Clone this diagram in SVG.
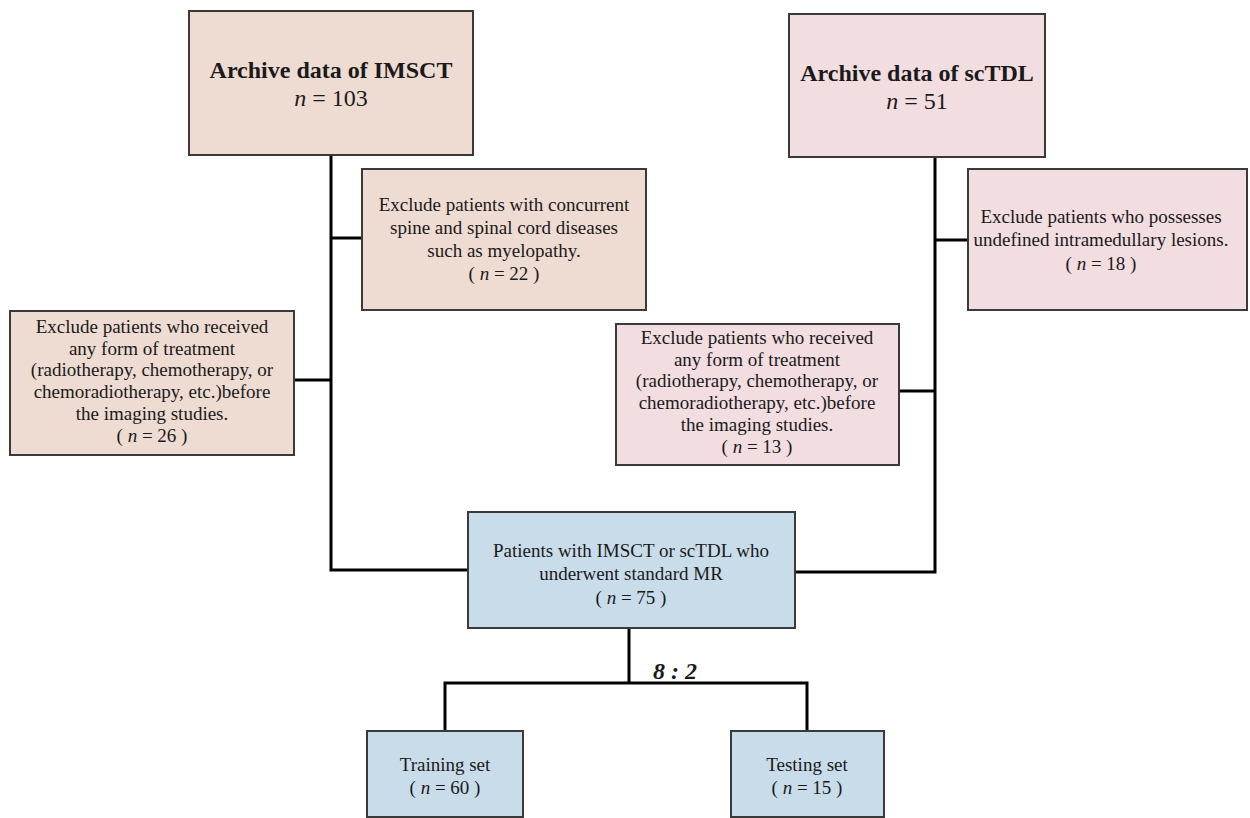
<svg xmlns="http://www.w3.org/2000/svg" width="1250" height="818" viewBox="0 0 1250 818">
<style>
rect{stroke:#3a3a3a;stroke-width:2}
.tan{fill:#eedcd2}
.pink{fill:#f2dde0}
.blue{fill:#c9dcea}
text{font-family:"Liberation Serif","Times New Roman",serif;fill:#1a1a1a;text-anchor:middle}
.title{font-size:24px;font-weight:bold}
.big{font-size:24px}
.t{font-size:19px}
.m{font-size:19px}
.conn{stroke:#000;stroke-width:3;fill:none}
</style>
<rect width="1250" height="818" fill="#fff" style="stroke:none"/>
<g id="connectors">
<path class="conn" d="M331 155 V570 H468"/>
<path class="conn" d="M331 238 H362"/>
<path class="conn" d="M294 380 H331"/>
<path class="conn" d="M935 157 V572 H795"/>
<path class="conn" d="M935 240 H968"/>
<path class="conn" d="M899 391 H935"/>
<path class="conn" d="M629 628 V683"/>
<path class="conn" d="M445 730 V683 H807 V730"/>
</g>
<g id="imsct">
<rect class="tan" x="189" y="11" width="284" height="144"/>
<text class="title" x="331" y="78">Archive data of IMSCT</text>
<text class="big" x="331" y="106"><tspan font-style="italic">n</tspan> = 103</text>
</g>
<g id="sctdl">
<rect class="pink" x="789" y="14" width="256" height="143"/>
<text class="title" x="917" y="81">Archive data of scTDL</text>
<text class="big" x="917" y="109"><tspan font-style="italic">n</tspan> = 51</text>
</g>
<g id="excl22">
<rect class="tan" x="362" y="169" width="284" height="141"/>
<text class="t" x="504" y="211">Exclude patients with concurrent</text>
<text class="t" x="504" y="234">spine and spinal cord diseases</text>
<text class="t" x="504" y="257">such as myelopathy.</text>
<text class="t" x="504" y="280">( <tspan font-style="italic">n</tspan> = 22 )</text>
</g>
<g id="excl18">
<rect class="pink" x="968" y="169" width="279" height="141"/>
<text class="t" x="1101" y="223">Exclude patients who possesses</text>
<text class="t" x="1101" y="246">undefined intramedullary lesions.</text>
<text class="t" x="1101" y="270">( <tspan font-style="italic">n</tspan> = 18 )</text>
</g>
<g id="excl26">
<rect class="tan" x="10" y="311" width="284" height="144"/>
<text class="t" x="152" y="333">Exclude patients who received</text>
<text class="t" x="152" y="355">any form of treatment</text>
<text class="t" x="152" y="376">(radiotherapy, chemotherapy, or</text>
<text class="t" x="152" y="398">chemoradiotherapy, etc.)before</text>
<text class="t" x="152" y="420">the imaging studies.</text>
<text class="t" x="152" y="442">( <tspan font-style="italic">n</tspan> = 26 )</text>
</g>
<g id="excl13">
<rect class="pink" x="616" y="324" width="283" height="141"/>
<text class="t" x="757" y="344">Exclude patients who received</text>
<text class="t" x="757" y="366">any form of treatment</text>
<text class="t" x="757" y="387">(radiotherapy, chemotherapy, or</text>
<text class="t" x="757" y="409">chemoradiotherapy, etc.)before</text>
<text class="t" x="757" y="431">the imaging studies.</text>
<text class="t" x="757" y="453">( <tspan font-style="italic">n</tspan> = 13 )</text>
</g>
<g id="patients">
<rect class="blue" x="468" y="512" width="327" height="116"/>
<text class="m" x="631" y="557">Patients with IMSCT or scTDL who</text>
<text class="m" x="631" y="580">underwent standard MR</text>
<text class="m" x="631" y="604">( <tspan font-style="italic">n</tspan> = 75 )</text>
</g>
<g id="ratio">
<text x="675" y="679" style="font-size:24px;font-weight:bold;font-style:italic">8 : 2</text>
</g>
<g id="training">
<rect class="blue" x="367" y="731" width="156" height="86"/>
<text class="m" x="445" y="771">Training set</text>
<text class="m" x="445" y="794">( <tspan font-style="italic">n</tspan> = 60 )</text>
</g>
<g id="testing">
<rect class="blue" x="731" y="731" width="153" height="86"/>
<text class="m" x="807" y="771">Testing set</text>
<text class="m" x="807" y="794">( <tspan font-style="italic">n</tspan> = 15 )</text>
</g>
</svg>
